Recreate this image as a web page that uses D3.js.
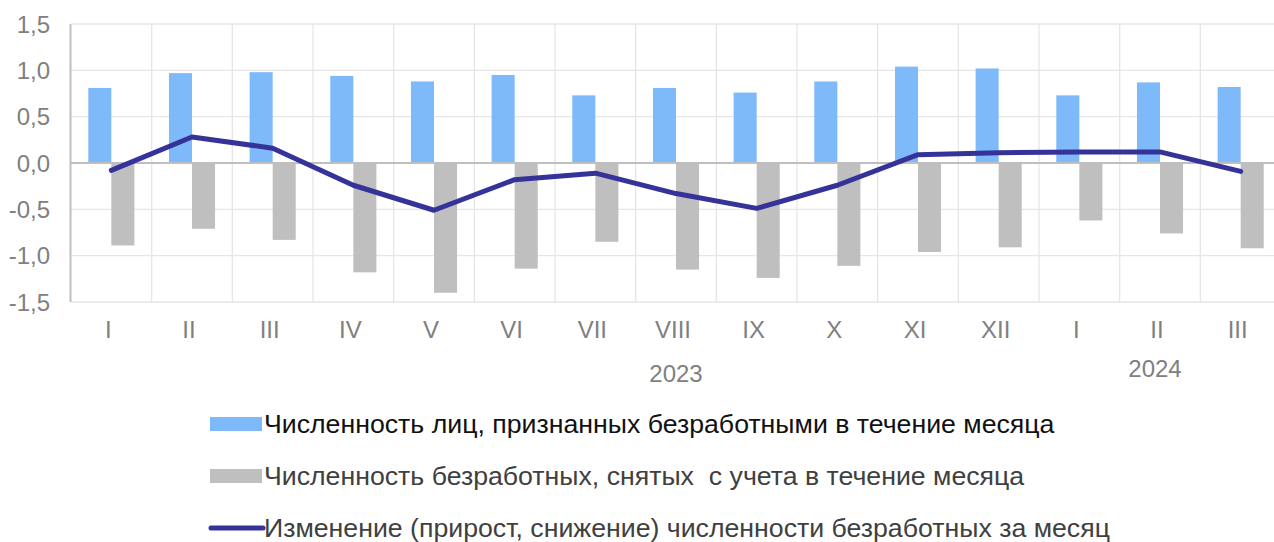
<!DOCTYPE html>
<html>
<head>
<meta charset="utf-8">
<script src="https://cdn.jsdelivr.net/npm/d3@7"></script>
<style>
  html, body { margin: 0; padding: 0; background: #fff; }
  svg { display: block; font-family: "Liberation Sans", Arial, sans-serif; }
</style>
</head>
<body>
<svg id="chart" width="1274" height="542"></svg>
<script>
// months (Roman numerals), 2023-I .. 2024-III
var months = ["I","II","III","IV","V","VI","VII","VIII","IX","X","XI","XII","I","II","III"];
var keys = months.map(function(m, i){ return i + "-" + m; });

// people registered as unemployed during the month
var registered = [0.81, 0.97, 0.98, 0.94, 0.88, 0.95, 0.73, 0.81, 0.76, 0.88, 1.04, 1.02, 0.73, 0.87, 0.82];
// unemployed removed from the register during the month
var removed = [-0.89, -0.71, -0.83, -1.18, -1.40, -1.14, -0.85, -1.15, -1.24, -1.11, -0.96, -0.91, -0.62, -0.76, -0.92];
// monthly change of the number of unemployed
var change = [-0.08, 0.28, 0.16, -0.24, -0.51, -0.18, -0.11, -0.33, -0.49, -0.24, 0.09, 0.11, 0.12, 0.12, -0.09];

var yTicks = [-1.5, -1.0, -0.5, 0, 0.5, 1.0, 1.5];
var years = [{label: "2023", at: 7, dy: 0, dx: 0}, {label: "2024", at: 13, dy: -5, dx: -5}];

var legendItems = [
  {label: "Численность лиц, признанных безработными в течение месяца", type: "rect", color: "#7eb9fa", text: "#111"},
  {label: "Численность безработных, снятых  с учета в течение месяца", type: "rect", color: "#bfbfbf", text: "#404040"},
  {label: "Изменение (прирост, снижение) численности безработных за месяц", type: "line", color: "#35339a", text: "#404040"}
];

var margin = {top: 24, left: 71, bottom: 302};
var plotRight = 1281;

var svg = d3.select("#chart");

var x = d3.scaleBand().domain(keys).range([margin.left, plotRight]).paddingInner(0).paddingOuter(0);
var x1 = d3.scaleBand().domain(["registered", "removed"]).range([0, x.bandwidth()]).paddingInner(0).paddingOuter(0.75);
var y = d3.scaleLinear().domain([-1.5, 1.5]).range([margin.bottom, margin.top]);

var fmt = function(v){ return d3.format(".1f")(v).replace(".", ",").replace("−", "-"); };

// grid
var grid = svg.append("g");
grid.selectAll("line.h").data(yTicks).join("line")
  .attr("x1", margin.left).attr("x2", plotRight)
  .attr("y1", function(d){ return y(d); }).attr("y2", function(d){ return y(d); })
  .attr("stroke", "#e6e6e6").attr("stroke-width", 1.3);
grid.selectAll("line.v").data(keys.slice(1)).join("line")
  .attr("x1", function(d){ return x(d); }).attr("x2", function(d){ return x(d); })
  .attr("y1", y(1.5)).attr("y2", y(-1.5))
  .attr("stroke", "#e6e6e6").attr("stroke-width", 1.3);

// y labels
svg.append("g").selectAll("text").data(yTicks).join("text")
  .attr("x", 50).attr("y", function(d){ return y(d); })
  .attr("dy", "0.36em").attr("text-anchor", "end")
  .attr("font-size", 24).attr("fill", "#808080")
  .text(fmt);

// bars
var bars = svg.append("g");
bars.selectAll("rect.reg").data(registered).join("rect")
  .attr("x", function(d, i){ return x(keys[i]) + x1("registered"); })
  .attr("width", x1.bandwidth())
  .attr("y", function(d){ return y(d); })
  .attr("height", function(d){ return y(0) - y(d); })
  .attr("fill", "#7eb9fa");
bars.selectAll("rect.rem").data(removed).join("rect")
  .attr("x", function(d, i){ return x(keys[i]) + x1("removed"); })
  .attr("width", x1.bandwidth())
  .attr("y", y(0))
  .attr("height", function(d){ return y(d) - y(0); })
  .attr("fill", "#bfbfbf");

// axis lines
svg.append("line")
  .attr("x1", margin.left).attr("x2", plotRight)
  .attr("y1", y(0)).attr("y2", y(0))
  .attr("stroke", "#bfbfbf").attr("stroke-width", 2.2);
svg.append("line")
  .attr("x1", margin.left - 0.5).attr("x2", margin.left - 0.5)
  .attr("y1", y(1.5)).attr("y2", y(-1.5))
  .attr("stroke", "#bfbfbf").attr("stroke-width", 2);

// change line
var line = d3.line()
  .x(function(d, i){ return x(keys[i]) + x.bandwidth() / 2; })
  .y(function(d){ return y(d); });
svg.append("path").datum(change)
  .attr("d", line)
  .attr("fill", "none").attr("stroke", "#35339a")
  .attr("stroke-width", 5).attr("stroke-linejoin", "round").attr("stroke-linecap", "round");

// x labels
svg.append("g").selectAll("text").data(keys).join("text")
  .attr("x", function(d){ return x(d) + x.bandwidth() / 2 - 3; })
  .attr("y", 338)
  .attr("text-anchor", "middle")
  .attr("font-size", 24).attr("fill", "#808080")
  .text(function(d, i){ return months[i]; });

svg.append("g").selectAll("text").data(years).join("text")
  .attr("x", function(d){ return x(keys[d.at]) + x.bandwidth() / 2 + d.dx; })
  .attr("y", function(d){ return 382 + d.dy; })
  .attr("text-anchor", "middle")
  .attr("font-size", 24).attr("fill", "#808080")
  .text(function(d){ return d.label; });

// legend
var legend = svg.append("g").attr("transform", "translate(210,0)");
var rowY = [424, 476, 528];
var item = legend.selectAll("g").data(legendItems).join("g")
  .attr("transform", function(d, i){ return "translate(0," + rowY[i] + ")"; });
item.filter(function(d){ return d.type === "rect"; }).append("rect")
  .attr("x", 0).attr("y", -7).attr("width", 52).attr("height", 14)
  .attr("fill", function(d){ return d.color; });
item.filter(function(d){ return d.type === "line"; }).append("line")
  .attr("x1", 1).attr("x2", 53).attr("y1", 0).attr("y2", 0)
  .attr("stroke", function(d){ return d.color; })
  .attr("stroke-width", 5).attr("stroke-linecap", "round");
item.append("text")
  .attr("x", 54).attr("y", 9)
  .attr("font-size", 26.7)
  .style("white-space", "pre")
  .attr("fill", function(d){ return d.text; })
  .text(function(d){ return d.label; });
</script>
</body>
</html>
